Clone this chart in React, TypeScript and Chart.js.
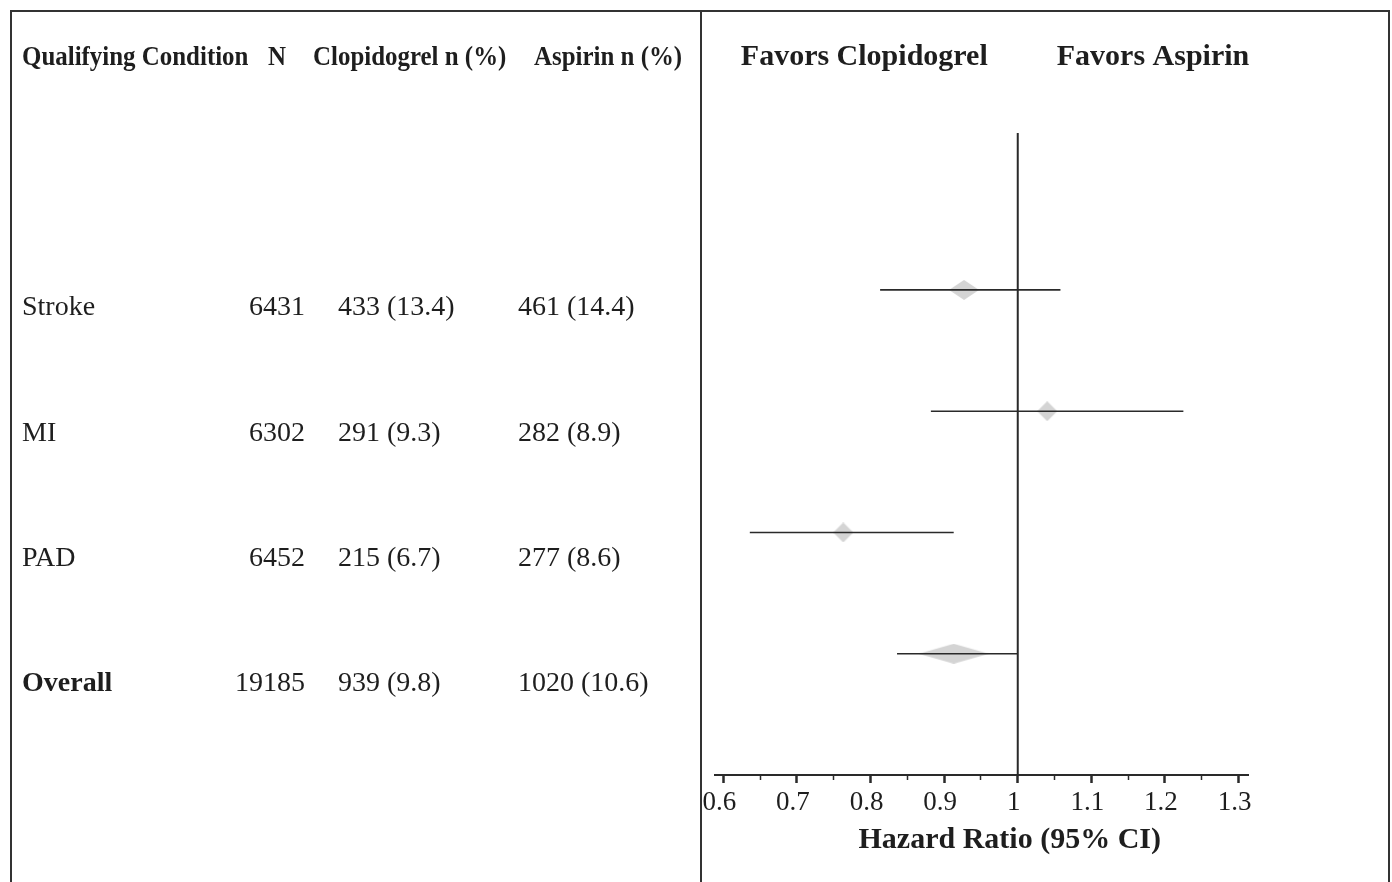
import React, { useEffect, useRef } from 'react';
import { Chart, registerables } from 'chart.js';

Chart.register(...registerables);

// ---------- data ----------
const CONDITIONS = ['Stroke', 'MI', 'PAD', 'Overall'];
const N_PATIENTS = [6431, 6302, 6452, 19185];
const CLOP_EVENTS = [433, 291, 215, 939];
const CLOP_PCT = [13.4, 9.3, 6.7, 9.8];
const ASP_EVENTS = [461, 282, 277, 1020];
const ASP_PCT = [14.4, 8.9, 8.6, 10.6];
const HR = [0.927, 1.04, 0.763, 0.913];
const CI_LOW = [0.813, 0.882, 0.636, 0.836];
const CI_HIGH = [1.058, 1.225, 0.913, 1.0];
const REF_HR = 1;

const TABLE_HEADERS = ['Qualifying Condition', 'N', 'Clopidogrel n (%)', 'Aspirin n (%)'];
const FAVORS = ['Favors Clopidogrel', 'Favors Aspirin'];
const AXIS_TITLE = 'Hazard Ratio (95% CI)';
const X_TICKS = [0.6, 0.65, 0.7, 0.75, 0.8, 0.85, 0.9, 0.95, 1.0, 1.05, 1.1, 1.15, 1.2, 1.25, 1.3];
const X_LABEL_VALUES = [0.6, 0.7, 0.8, 0.9, 1.0, 1.1, 1.2, 1.3];
const X_LABELS = ['0.6', '0.7', '0.8', '0.9', '1', '1.1', '1.2', '1.3'];

// ---------- styles ----------
const SERIF = '"Liberation Serif", "Times New Roman", serif';
const INK = '#1e1e1e';
const LINE = '#2a2a2a';
const DIAMOND_FILL = '#d4d4d4';
const DIAMOND_HALF_W = [15, 10, 10, 35];
const DIAMOND_HALF_H = [10, 10, 10, 10];

const isMajor = (v: number) => X_LABEL_VALUES.some((t) => Math.abs(t - v) < 1e-6);

function makeDiamond(hw: number, hh: number, color: string) {
  const c = document.createElement('canvas');
  c.width = hw * 2;
  c.height = hh * 2;
  const g = c.getContext('2d')!;
  g.fillStyle = color;
  g.beginPath();
  g.moveTo(0, hh);
  g.lineTo(hw, 0);
  g.lineTo(hw * 2, hh);
  g.lineTo(hw, hh * 2);
  g.closePath();
  g.fill();
  return c;
}

const tablePlugin = {
  id: 'forestTable',
  afterDraw(chart: any) {
    const ctx = chart.ctx as CanvasRenderingContext2D;
    const yT = chart.scales.yTable;
    const xs = chart.scales.x;
    ctx.save();

    // frame
    ctx.strokeStyle = '#333';
    ctx.lineWidth = 2;
    ctx.beginPath();
    ctx.moveTo(10, 11);
    ctx.lineTo(1390, 11);
    ctx.moveTo(11, 10);
    ctx.lineTo(11, 882);
    ctx.moveTo(701, 10);
    ctx.lineTo(701, 882);
    ctx.moveTo(1389, 10);
    ctx.lineTo(1389, 882);
    ctx.stroke();

    ctx.fillStyle = INK;
    ctx.textBaseline = 'middle';

    // table header (condensed bold)
    const hy = yT.getPixelForValue(-1);
    ctx.font = `bold 28px ${SERIF}`;
    ctx.textAlign = 'left';
    const headerX = [22, 268, 313, 534];
    TABLE_HEADERS.forEach((h, i) => {
      const w = ctx.measureText(h).width;
      ctx.fillText(h, headerX[i], hy, w * 0.89);
    });

    // rows
    CONDITIONS.forEach((c, i) => {
      const y = yT.getPixelForValue(i + 1);
      const bold = c === 'Overall';
      ctx.font = `${bold ? 'bold ' : ''}28px ${SERIF}`;
      ctx.textAlign = 'left';
      ctx.fillText(c, 22, y);
      ctx.font = `28px ${SERIF}`;
      ctx.textAlign = 'right';
      ctx.fillText(String(N_PATIENTS[i]), 305, y);
      ctx.textAlign = 'left';
      ctx.fillText(`${CLOP_EVENTS[i]} (${CLOP_PCT[i].toFixed(1)})`, 338, y);
      ctx.fillText(`${ASP_EVENTS[i]} (${ASP_PCT[i].toFixed(1)})`, 518, y);
    });

    // favors header
    const refX = xs.getPixelForValue(REF_HR);
    ctx.font = `bold 30px ${SERIF}`;
    ctx.textAlign = 'right';
    ctx.fillText(FAVORS[0], refX - 30, hy);
    ctx.textAlign = 'left';
    ctx.fillText(FAVORS[1], refX + 39, hy);

    // axis title
    ctx.font = `bold 30px ${SERIF}`;
    ctx.textAlign = 'center';
    ctx.fillText(AXIS_TITLE, refX - 8, xs.bottom - 42);

    ctx.restore();
  },
};

export default function App() {
  const ref = useRef<HTMLCanvasElement>(null);

  useEffect(() => {
    const canvas = ref.current;
    if (!canvas) return;
    const diamonds = HR.map((_, i) => makeDiamond(DIAMOND_HALF_W[i], DIAMOND_HALF_H[i], DIAMOND_FILL));

    const ciDatasets = CONDITIONS.map((c, i) => ({
      type: 'line' as const,
      label: `${c} CI`,
      data: [
        { x: CI_LOW[i], y: i + 1 },
        { x: CI_HIGH[i], y: i + 1 },
      ],
      borderColor: LINE,
      borderWidth: 1.6,
      pointRadius: 0,
      showLine: true,
      order: 2,
      clip: false as any,
    }));

    const chart = new Chart(canvas, {
      type: 'scatter',
      data: {
        datasets: [
          {
            label: 'HR',
            data: HR.map((h, i) => ({ x: h, y: i + 1 })),
            pointStyle: diamonds as any,
            pointRadius: 10,
            backgroundColor: DIAMOND_FILL,
            borderWidth: 0,
            order: 3,
            clip: false as any,
          } as any,
          ...ciDatasets,
          {
            type: 'line',
            label: 'Reference',
            data: [
              { x: REF_HR, y: -0.294 },
              { x: REF_HR, y: 5 },
            ],
            borderColor: LINE,
            borderWidth: 2,
            pointRadius: 0,
            showLine: true,
            order: 1,
          } as any,
        ],
      },
      options: {
        responsive: false,
        animation: false,
        devicePixelRatio: 1,
        layout: { padding: { left: 715, right: 144, top: 133, bottom: 0 } },
        plugins: { legend: { display: false }, tooltip: { enabled: false } },
        scales: {
          x: {
            type: 'linear',
            position: 'bottom',
            min: 0.5887,
            max: 1.3128,
            afterBuildTicks: (scale: any) => {
              scale.ticks = X_TICKS.map((v) => ({ value: v }));
            },
            afterFit: (scale: any) => {
              scale.height = 107;
            },
            border: { display: true, color: LINE, width: 2 },
            grid: {
              display: true,
              drawOnChartArea: false,
              drawTicks: true,
              tickLength: 8,
              tickColor: LINE,
              tickWidth: (c: any) => (c.tick && isMajor(c.tick.value) ? 2.5 : 1.5),
              tickBorderDash: (c: any) => (c.tick && isMajor(c.tick.value) ? [] : [4, 40]),
            } as any,
            ticks: {
              autoSkip: false,
              maxRotation: 0,
              padding: 4,
              labelOffset: -4,
              color: INK,
              font: { family: SERIF, size: 27 },
              callback: (v: any) => {
                const i = X_LABEL_VALUES.findIndex((t) => Math.abs(t - Number(v)) < 1e-6);
                return i >= 0 ? X_LABELS[i] : '';
              },
            },
          },
          y: {
            type: 'linear',
            display: false,
            reverse: true,
            min: -0.294,
            max: 5,
          },
          yTable: {
            type: 'linear',
            display: false,
            reverse: true,
            min: -0.396,
            max: 4.726,
          },
        },
      } as any,
      plugins: [tablePlugin],
    });

    return () => chart.destroy();
  }, []);

  return (
    <div style={{ position: 'fixed', left: 0, top: 0, width: 1392, height: 882, background: '#fff' }}>
      <canvas ref={ref} width={1392} height={882} style={{ display: 'block', width: 1392, height: 882 }} />
    </div>
  );
}
